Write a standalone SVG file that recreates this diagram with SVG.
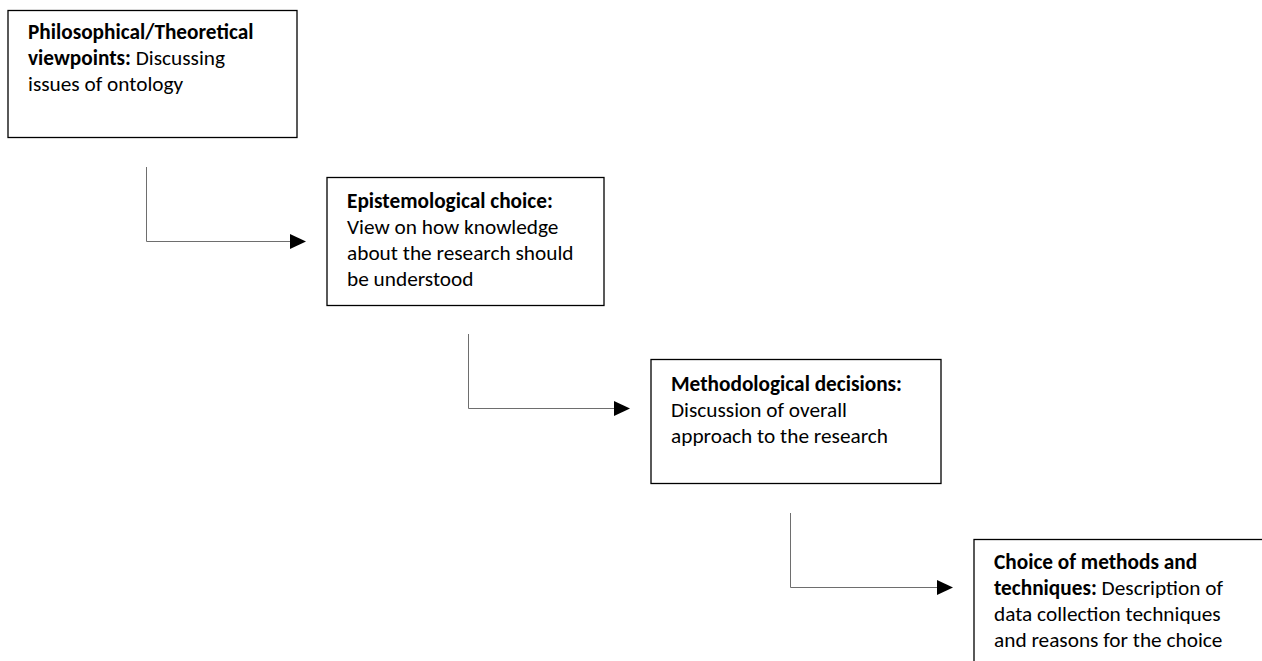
<svg xmlns="http://www.w3.org/2000/svg" width="1262" height="661" viewBox="0 0 1262 661">
  <style>
    .box { fill: #ffffff; stroke: #000000; stroke-width: 1.3; }
    .lbl { font-family: Carlito, Lato, "Liberation Sans", sans-serif; font-size: 21.3px; fill: #000000; }
    .b { font-weight: bold; }
    .conn { fill: none; stroke: #6e6e6e; stroke-width: 1; }
  </style>
  <defs>
    <marker id="arrow" markerWidth="16" markerHeight="16" refX="0" refY="7.5" orient="auto" markerUnits="userSpaceOnUse">
      <path d="M0,0 L16,7.5 L0,15 Z" fill="#000000"/>
    </marker>
  </defs>

  <rect width="1262" height="661" fill="#ffffff"/>

  <!-- connectors: elbow lines from one stage down to the next -->
  <g id="connectors">
    <path class="conn" d="M146.5,167 V241.5 H290" marker-end="url(#arrow)"/>
    <path class="conn" d="M468.5,334 V408.5 H614" marker-end="url(#arrow)"/>
    <path class="conn" d="M790.5,513 V587.5 H937" marker-end="url(#arrow)"/>
  </g>

  <!-- stage 1 -->
  <g id="node-philosophical">
    <rect class="box" x="8" y="10.5" width="289" height="127"/>
    <text class="lbl" x="28" y="39"><tspan class="b">Philosophical/Theoretical</tspan></text>
    <text class="lbl" x="28" y="65"><tspan class="b">viewpoints:</tspan> Discussing</text>
    <text class="lbl" x="28" y="91">issues of ontology</text>
  </g>

  <!-- stage 2 -->
  <g id="node-epistemological">
    <rect class="box" x="327" y="177.5" width="277" height="128"/>
    <text class="lbl" x="347" y="208"><tspan class="b">Epistemological choice:</tspan></text>
    <text class="lbl" x="347" y="234">View on how knowledge</text>
    <text class="lbl" x="347" y="260">about the research should</text>
    <text class="lbl" x="347" y="286">be understood</text>
  </g>

  <!-- stage 3 -->
  <g id="node-methodological">
    <rect class="box" x="651" y="359.5" width="290" height="124"/>
    <text class="lbl" x="671" y="391"><tspan class="b">Methodological decisions:</tspan></text>
    <text class="lbl" x="671" y="417">Discussion of overall</text>
    <text class="lbl" x="671" y="443">approach to the research</text>
  </g>

  <!-- stage 4 -->
  <g id="node-methods">
    <rect class="box" x="974" y="539.5" width="300" height="140"/>
    <text class="lbl" x="994" y="569"><tspan class="b">Choice of methods and</tspan></text>
    <text class="lbl" x="994" y="595"><tspan class="b">techniques:</tspan> Description of</text>
    <text class="lbl" x="994" y="621">data collection techniques</text>
    <text class="lbl" x="994" y="647">and reasons for the choice</text>
  </g>
</svg>
